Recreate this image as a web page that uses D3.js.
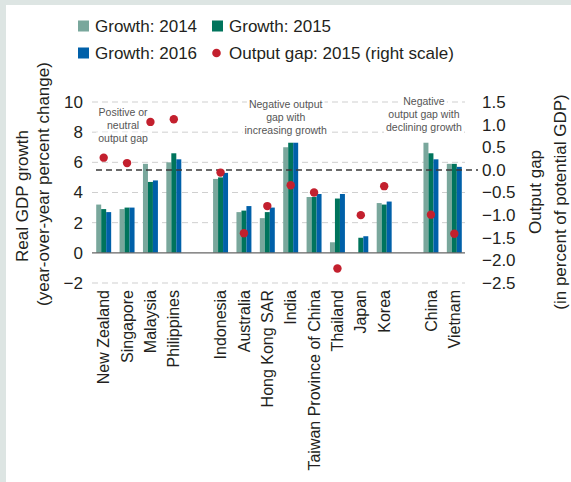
<!DOCTYPE html>
<html>
<head>
<meta charset="utf-8">
<script src="https://cdn.jsdelivr.net/npm/d3@7"></script>
<style>
  html, body { margin: 0; padding: 0; background: #dde5e3; }
  svg { display: block; font-family: "Liberation Sans", Arial, sans-serif; }
</style>
</head>
<body>
<svg id="chart" width="571" height="482"></svg>
<script>
const categories = ["New Zealand", "Singapore", "Malaysia", "Philippines",
  "Indonesia", "Australia", "Hong Kong SAR", "India", "Taiwan Province of China",
  "Thailand", "Japan", "Korea", "China", "Vietnam"];
const growth2014 = [3.2, 2.9, 5.9, 6.0, 4.9, 2.7, 2.3, 7.0, 3.7, 0.7, 0.0, 3.3, 7.3, 5.9];
const growth2015 = [2.9, 3.0, 4.7, 6.6, 5.0, 2.8, 2.7, 7.3, 3.7, 3.6, 1.0, 3.2, 6.6, 5.9];
const growth2016 = [2.7, 3.0, 4.8, 6.2, 5.3, 3.1, 3.0, 7.3, 3.9, 3.9, 1.1, 3.4, 6.2, 5.7];
const outputGap2015 = [0.27, 0.15, 1.06, 1.12, -0.06, -1.4, -0.8, -0.34, -0.5, -2.18, -1.0, -0.36, -0.99, -1.41];
const leftTicks = [-2, 0, 2, 4, 6, 8, 10];
const rightTicks = [-2.5, -2.0, -1.5, -1.0, -0.5, 0.0, 0.5, 1.0, 1.5];
const seriesNames = ["Growth: 2014", "Growth: 2015", "Growth: 2016"];
const gapLegend = "Output gap: 2015 (right scale)";
const annotations = [
  {lines: ["Positive or", "neutral", "output gap"], after: "Singapore", shift: -4, top: 112},
  {lines: ["Negative output", "gap with", "increasing growth"], after: "India", shift: -5, top: 104},
  {lines: ["Negative", "output gap with", "declining growth"], after: "China", shift: -7, top: 101}
];

const colors = ["#79a79c", "#00745c", "#0060a9"];
const dotColor = "#c3202e";
const textColor = "#231f20";

const svg = d3.select("#chart");
// white panel
svg.append("rect").attr("x", 6).attr("y", 5).attr("width", 565).attr("height", 477).attr("fill", "#ffffff");

// slots with gaps between groups
const slots = [...categories.slice(0, 4), "_gap1", ...categories.slice(4, 12), "_gap2", ...categories.slice(12)];

const plotL = 92, plotR = 466, plotT = 102, plotB = 283;
const x = d3.scaleBand().domain(slots).range([plotL, plotR]).paddingInner(0.36).paddingOuter(0.18);
const x1 = d3.scaleBand().domain([0, 1, 2]).range([0, x.bandwidth()]);
const yL = d3.scaleLinear().domain([-2, 10]).range([plotB, plotT]);
const yR = d3.scaleLinear().domain([-2.5, 1.5]).range([plotB, plotT]);

// gridlines
svg.append("g").selectAll("line").data(leftTicks.filter(d => d !== 0)).join("line")
  .attr("x1", plotL).attr("x2", 465)
  .attr("y1", d => yL(d)).attr("y2", d => yL(d))
  .attr("stroke", "#cfcfcf").attr("stroke-width", 1).attr("stroke-dasharray", "6,4");

// annotations with white backgrounds
annotations.forEach(a => {
  const cx = x(a.after) + x.bandwidth() / 2 + a.shift;
  const g = svg.append("g");
  a.lines.forEach((ln, i) => {
    const t = g.append("text").attr("x", cx).attr("y", a.top + i * 13.3).attr("dy", "0.35em")
      .attr("text-anchor", "middle").attr("font-size", "10.5px").attr("fill", "#555555").text(ln);
    const bb = t.node().getBBox();
    g.insert("rect", "text").attr("x", bb.x - 2).attr("y", bb.y).attr("width", bb.width + 4).attr("height", bb.height)
      .attr("fill", "#ffffff");
  });
});

// bars
const rows = categories.map((c, i) => ({c, v: [growth2014[i], growth2015[i], growth2016[i]], gap: outputGap2015[i]}));
const groups = svg.append("g").selectAll("g").data(rows).join("g")
  .attr("transform", d => `translate(${x(d.c)},0)`);
groups.selectAll("rect").data(d => d.v.map((v, k) => ({v, k}))).join("rect")
  .attr("x", d => x1(d.k)).attr("width", x1.bandwidth())
  .attr("y", d => yL(Math.max(0, d.v)))
  .attr("height", d => Math.abs(yL(d.v) - yL(0)))
  .attr("fill", d => colors[d.k]);

// zero line
svg.append("line").attr("x1", plotL).attr("x2", 465).attr("y1", yL(0)).attr("y2", yL(0))
  .attr("stroke", "#666666").attr("stroke-width", 1.2);

// right-scale zero dashed line
svg.append("line").attr("x1", 96).attr("x2", 478).attr("y1", yR(0)).attr("y2", yR(0))
  .attr("stroke", "#3a3a3a").attr("stroke-width", 1.5).attr("stroke-dasharray", "6,4");

// dots
svg.append("g").selectAll("circle").data(rows).join("circle")
  .attr("cx", d => x(d.c) + x.bandwidth() / 2)
  .attr("cy", d => yR(d.gap))
  .attr("r", 4.2).attr("fill", dotColor);

// axes
const axL = svg.append("g").attr("transform", `translate(${plotL},0)`)
  .call(d3.axisLeft(yL).tickValues(leftTicks).tickSize(0).tickPadding(9));
const axR = svg.append("g").attr("transform", `translate(465,0)`)
  .call(d3.axisRight(yR).tickValues(rightTicks).tickFormat(d3.format(".1f")).tickSize(0).tickPadding(17));
[axL, axR].forEach(a => {
  a.select(".domain").remove();
  a.selectAll("text").attr("font-size", "17px").attr("fill", textColor)
    .attr("font-family", "'Liberation Sans', Arial, sans-serif");
});

// x labels
svg.append("g").selectAll("text").data(categories).join("text")
  .attr("transform", d => `translate(${x(d) + x.bandwidth() / 2},290) rotate(-90)`)
  .attr("text-anchor", "end").attr("dy", "0.35em")
  .attr("font-size", "16px").attr("fill", textColor).text(d => d);

// axis titles
function vtitle(text, cx, cy) {
  svg.append("text").attr("transform", `translate(${cx},${cy}) rotate(-90)`)
    .attr("text-anchor", "middle").attr("dy", "0.35em")
    .attr("font-size", "17px").attr("fill", textColor).text(text);
}
vtitle("Real GDP growth", 22, 196);
vtitle("(year-over-year percent change)", 43, 184);
vtitle("Output gap", 535, 192);
vtitle("(in percent of potential GDP)", 560, 202);

// legend
const legend = svg.append("g");
const legItems = [
  {type: "rect", color: colors[0], label: seriesNames[0], x: 78, y: 26},
  {type: "rect", color: colors[1], label: seriesNames[1], x: 212, y: 26},
  {type: "rect", color: colors[2], label: seriesNames[2], x: 78, y: 53},
  {type: "dot", color: dotColor, label: gapLegend, x: 212, y: 53}
];
legItems.forEach(it => {
  if (it.type === "rect") {
    legend.append("rect").attr("x", it.x).attr("y", it.y - 5.5).attr("width", 11).attr("height", 11).attr("fill", it.color);
  } else {
    legend.append("circle").attr("cx", it.x + 4.5).attr("cy", it.y).attr("r", 4.3).attr("fill", it.color);
  }
  legend.append("text").attr("x", it.x + 17).attr("y", it.y).attr("dy", "0.35em")
    .attr("font-size", "17px").attr("fill", textColor).text(it.label);
});
</script>
</body>
</html>
